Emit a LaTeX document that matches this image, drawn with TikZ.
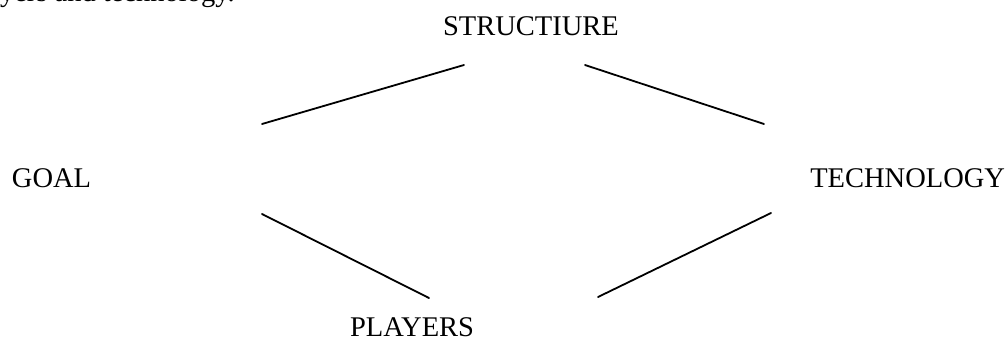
\documentclass[tikz,border=0pt]{standalone}
\usepackage{fontspec}
\setmainfont{Liberation Serif}
\begin{document}
\begin{tikzpicture}[x=1pt,y=-1pt,
  label/.style={inner sep=0pt,outer sep=0pt,font=\fontsize{28.5}{34}\selectfont},
  link/.style={line width=1.8pt,line cap=round}]
\clip (0,0) rectangle (1006,340);
\useasboundingbox (0,0) rectangle (1006,340);
% trailing line of the preceding sentence
\node[label,anchor=base west] (prev) at (0,1.5) {yers and technology.};
% the four elements
\node[label,anchor=base west] (structure) at (443,35) {STRUCTIURE};
\node[label,anchor=base west] (goal) at (12,187) {GOAL};
\node[label,anchor=base east] (technology) at (1005,187) {TECHNOLOGY};
\node[label,anchor=base west] (players) at (350,336) {PLAYERS};
% link end points
\coordinate (sl) at (464,65);
\coordinate (sr) at (585,65);
\coordinate (gt) at (262,124);
\coordinate (gb) at (262,214);
\coordinate (tt) at (764,124);
\coordinate (tb) at (771,213);
\coordinate (pl) at (429,298);
\coordinate (pr) at (598,297);
% links between the elements
\draw[link] (gt) -- (sl);
\draw[link] (sr) -- (tt);
\draw[link] (gb) -- (pl);
\draw[link] (tb) -- (pr);
\end{tikzpicture}
\end{document}
